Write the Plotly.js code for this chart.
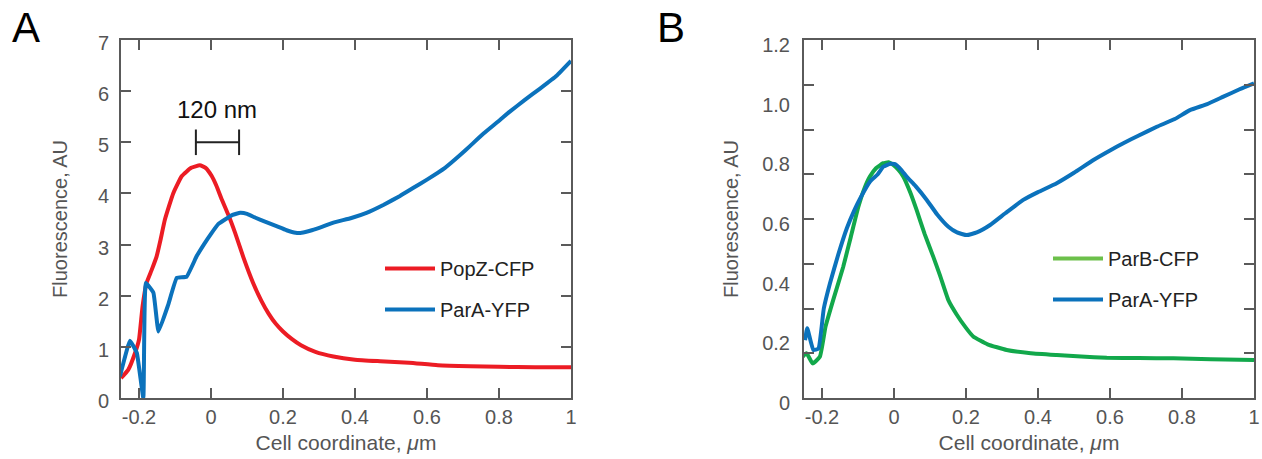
<!DOCTYPE html>
<html>
<head>
<meta charset="utf-8">
<script src="https://cdn.plot.ly/plotly-3.0.1.min.js"></script>
<style>
html,body{margin:0;padding:0;background:#fff;}
#chart{width:1262px;height:459px;}
</style>
</head>
<body>
<div id="chart"></div>
<script>
// ---------- Panel A data ----------
const popzX = [-0.25, -0.23, -0.21, -0.2, -0.19, -0.179, -0.165, -0.151, -0.14, -0.128, -0.105, -0.081, -0.055, -0.031, -0.015, 0.002, 0.015, 0.03, 0.05, 0.067, 0.09, 0.117, 0.14, 0.16, 0.18, 0.2, 0.225, 0.25, 0.29, 0.34, 0.4, 0.47, 0.55, 0.63, 0.72, 0.8, 0.9, 1.0];
const popzY = [0.39, 0.55, 0.9, 1.14, 1.8, 2.25, 2.5, 2.77, 3.1, 3.49, 4.0, 4.34, 4.5, 4.55, 4.5, 4.34, 4.15, 3.88, 3.55, 3.23, 2.75, 2.25, 1.9, 1.65, 1.45, 1.3, 1.15, 1.03, 0.9, 0.81, 0.75, 0.72, 0.69, 0.64, 0.62, 0.61, 0.6, 0.6];

const paraAX = [-0.253, -0.225, -0.206, -0.188, -0.181, -0.16, -0.146, -0.119, -0.095, -0.068, -0.04, -0.02, 0.002, 0.02, 0.039, 0.06, 0.081, 0.1, 0.122, 0.15, 0.182, 0.21, 0.235, 0.252, 0.28, 0.31, 0.34, 0.39, 0.432, 0.48, 0.525, 0.56, 0.6, 0.65, 0.692, 0.72, 0.757, 0.8, 0.83, 0.87, 0.914, 0.96, 1.0];
const paraAY = [0.42, 1.12, 0.88, 0.0, 2.25, 2.06, 1.30, 1.82, 2.35, 2.37, 2.77, 3.0, 3.23, 3.4, 3.49, 3.58, 3.62, 3.6, 3.53, 3.45, 3.36, 3.28, 3.23, 3.23, 3.28, 3.35, 3.43, 3.52, 3.62, 3.78, 3.95, 4.1, 4.27, 4.5, 4.75, 4.93, 5.17, 5.42, 5.6, 5.82, 6.05, 6.3, 6.59];

// ---------- Panel B data ----------
const parBX = [-0.254, -0.243, -0.226, -0.206, -0.19, -0.169, -0.141, -0.12, -0.099, -0.083, -0.067, -0.05, -0.03, -0.015, -0.002, 0.012, 0.026, 0.045, 0.063, 0.085, 0.109, 0.128, 0.151, 0.174, 0.2, 0.22, 0.26, 0.313, 0.38, 0.452, 0.52, 0.591, 0.68, 0.776, 0.88, 1.0];
const parBY = [0.138, 0.15, 0.116, 0.138, 0.24, 0.328, 0.44, 0.54, 0.641, 0.7, 0.742, 0.77, 0.787, 0.79, 0.781, 0.765, 0.742, 0.69, 0.63, 0.55, 0.474, 0.41, 0.328, 0.28, 0.235, 0.206, 0.18, 0.161, 0.15, 0.144, 0.139, 0.135, 0.134, 0.133, 0.13, 0.127];

const paraBX = [-0.247, -0.241, -0.224, -0.21, -0.195, -0.178, -0.155, -0.131, -0.11, -0.094, -0.067, -0.045, -0.03, -0.01, 0.003, 0.02, 0.035, 0.06, 0.091, 0.12, 0.151, 0.175, 0.202, 0.23, 0.267, 0.31, 0.359, 0.4, 0.452, 0.5, 0.554, 0.6, 0.637, 0.68, 0.73, 0.78, 0.822, 0.87, 0.915, 0.96, 1.0];
const paraBY = [0.194, 0.234, 0.161, 0.166, 0.3, 0.384, 0.48, 0.569, 0.63, 0.669, 0.725, 0.75, 0.775, 0.785, 0.784, 0.765, 0.742, 0.71, 0.664, 0.615, 0.574, 0.555, 0.546, 0.555, 0.58, 0.62, 0.664, 0.69, 0.72, 0.755, 0.798, 0.83, 0.854, 0.88, 0.909, 0.935, 0.965, 0.985, 1.01, 1.035, 1.055];

// ---------- ticks / labels ----------
const xTickVals = [-0.2, 0, 0.2, 0.4, 0.6, 0.8, 1];
const xTickText = ["-0.2", "0", "0.2", "0.4", "0.6", "0.8", "1"];
const yTickValsA = [0, 1, 2, 3, 4, 5, 6, 7];
const yTickTextA = ["0", "1", "2", "3", "4", "5", "6", "7"];
const yLabelValsB = [0, 0.2, 0.4, 0.6, 0.8, 1.0, 1.2];
const yLabelTextB = ["0", "0.2", "0.4", "0.6", "0.8", "1.0", "1.2"];
const yTickMarksB = [0, 0.15, 0.3, 0.45, 0.6, 0.75, 0.9, 1.05, 1.2];

// scale bar (panel A)
const scaleBarX = [-0.042, 0.078];
const scaleBarY = 5.0;
const scaleBarCap = 0.25;
const scaleBarLabel = "120 nm";

const RED = '#ec1c24', BLUE = '#0b72bc', GREEN = '#12a84b', GREEN_LEG = '#6cc04a';
const AXC = '#5a5a5a', TXT = '#555555';
const FONT = 'Liberation Sans, Arial, Helvetica, sans-serif';

const traces = [
  {x: popzX, y: popzY, name: 'PopZ-CFP', type: 'scatter', mode: 'lines', xaxis: 'x', yaxis: 'y',
   line: {color: RED, width: 4, shape: 'spline', smoothing: 0.4}, legend: 'legend', legendgroup: 'a1'},
  {x: paraAX, y: paraAY, name: 'ParA-YFP', type: 'scatter', mode: 'lines', xaxis: 'x', yaxis: 'y',
   line: {color: BLUE, width: 4, shape: 'spline', smoothing: 0.3}, legend: 'legend', legendgroup: 'a2'},
  // legend proxy for ParB (lighter green swatch as in the figure); also carries the tick-mark overlay axis
  {x: [null], y: [null], name: 'ParB-CFP', type: 'scatter', mode: 'lines', xaxis: 'x2', yaxis: 'y3',
   line: {color: GREEN_LEG, width: 4}, legend: 'legend2', legendgroup: 'b1'},
  {x: parBX, y: parBY, name: 'ParB-CFP', type: 'scatter', mode: 'lines', xaxis: 'x2', yaxis: 'y2',
   line: {color: GREEN, width: 4, shape: 'spline', smoothing: 0.4}, showlegend: false},
  {x: paraBX, y: paraBY, name: 'ParA-YFP', type: 'scatter', mode: 'lines', xaxis: 'x2', yaxis: 'y2',
   line: {color: BLUE, width: 4, shape: 'spline', smoothing: 0.4}, legend: 'legend2', legendgroup: 'b2'},
  // scale bar
  {x: [scaleBarX[0], scaleBarX[0], null, scaleBarX[0], scaleBarX[1], null, scaleBarX[1], scaleBarX[1]],
   y: [scaleBarY - scaleBarCap, scaleBarY + scaleBarCap, null, scaleBarY, scaleBarY, null, scaleBarY - scaleBarCap, scaleBarY + scaleBarCap],
   type: 'scatter', mode: 'lines', xaxis: 'x', yaxis: 'y', showlegend: false, hoverinfo: 'skip',
   line: {color: '#222222', width: 2}}
];

const yDom = [1 - 398/459, 1 - 40/459];
const baseX = {
  range: [-0.25, 1], tickvals: xTickVals, ticktext: xTickText,
  ticks: 'inside', ticklen: 10, tickwidth: 2, tickcolor: AXC,
  showline: true, linecolor: AXC, linewidth: 2, mirror: 'ticks',
  showgrid: false, zeroline: false,
  tickfont: {family: FONT, size: 20, color: TXT},
  title: {text: 'Cell coordinate, <i>μ</i>m', font: {family: FONT, size: 21, color: TXT}, standoff: 8},
  fixedrange: true
};

const layout = {
  width: 1262, height: 459,
  margin: {l: 0, r: 0, t: 0, b: 0},
  paper_bgcolor: '#ffffff', plot_bgcolor: 'rgba(0,0,0,0)',
  font: {family: FONT},
  xaxis: Object.assign({}, baseX, {domain: [121/1262, 571/1262], anchor: 'y'}),
  xaxis2: Object.assign({}, baseX, {domain: [804/1262, 1254/1262], anchor: 'y2'}),
  yaxis: {
    domain: yDom, anchor: 'x', range: [0, 7], tickvals: yTickValsA, ticktext: yTickTextA,
    ticks: 'inside', ticklen: 10, tickwidth: 2, tickcolor: AXC,
    showline: true, linecolor: AXC, linewidth: 2, mirror: 'ticks',
    showgrid: false, zeroline: false, ticklabelstandoff: 6, ticklabelshift: 3,
    tickfont: {family: FONT, size: 20, color: TXT},
    title: {text: 'Fluorescence, AU', font: {family: FONT, size: 20, color: TXT}, standoff: 25},
    fixedrange: true
  },
  yaxis2: {
    domain: yDom, anchor: 'x2', range: [0, 1.2], tickvals: yLabelValsB, ticktext: yLabelTextB,
    ticks: '', showline: true, linecolor: AXC, linewidth: 2, mirror: true,
    showgrid: false, zeroline: false, ticklabelstandoff: 8, ticklabelshift: 5,
    tickfont: {family: FONT, size: 20, color: TXT},
    title: {text: 'Fluorescence, AU', font: {family: FONT, size: 20, color: TXT}, standoff: 18},
    fixedrange: true
  },
  yaxis3: {
    domain: yDom, anchor: 'x2', overlaying: 'y2', range: [0, 1.2], tickvals: yTickMarksB,
    showticklabels: false, ticks: 'inside', ticklen: 10, tickwidth: 2, tickcolor: AXC,
    showline: true, linecolor: AXC, linewidth: 2, mirror: 'ticks',
    showgrid: false, zeroline: false, fixedrange: true
  },
  legend: {
    x: 380/1262, y: 1 - 249/459, xanchor: 'left', yanchor: 'top',
    font: {family: FONT, size: 20, color: '#222222'}, bgcolor: 'rgba(0,0,0,0)',
    traceorder: 'grouped', tracegroupgap: 12, itemwidth: 50
  },
  legend2: {
    x: 1048/1262, y: 1 - 239/459, xanchor: 'left', yanchor: 'top',
    font: {family: FONT, size: 20, color: '#222222'}, bgcolor: 'rgba(0,0,0,0)',
    traceorder: 'grouped', tracegroupgap: 12, itemwidth: 50
  },
  annotations: [
    {text: 'A', xref: 'paper', yref: 'paper', x: 10/1262, y: 1 - 2/459, xanchor: 'left', yanchor: 'top',
     showarrow: false, font: {family: FONT, size: 42, color: '#000'}},
    {text: 'B', xref: 'paper', yref: 'paper', x: 655/1262, y: 1 - 2/459, xanchor: 'left', yanchor: 'top',
     showarrow: false, font: {family: FONT, size: 42, color: '#000'}},
    {text: scaleBarLabel, xref: 'x', yref: 'y', x: (scaleBarX[0] + scaleBarX[1]) / 2, y: scaleBarY + 0.65,
     showarrow: false, font: {family: FONT, size: 24, color: '#111'}}
  ]
};

Plotly.newPlot('chart', traces, layout, {displayModeBar: false, staticPlot: true});
</script>
</body>
</html>
